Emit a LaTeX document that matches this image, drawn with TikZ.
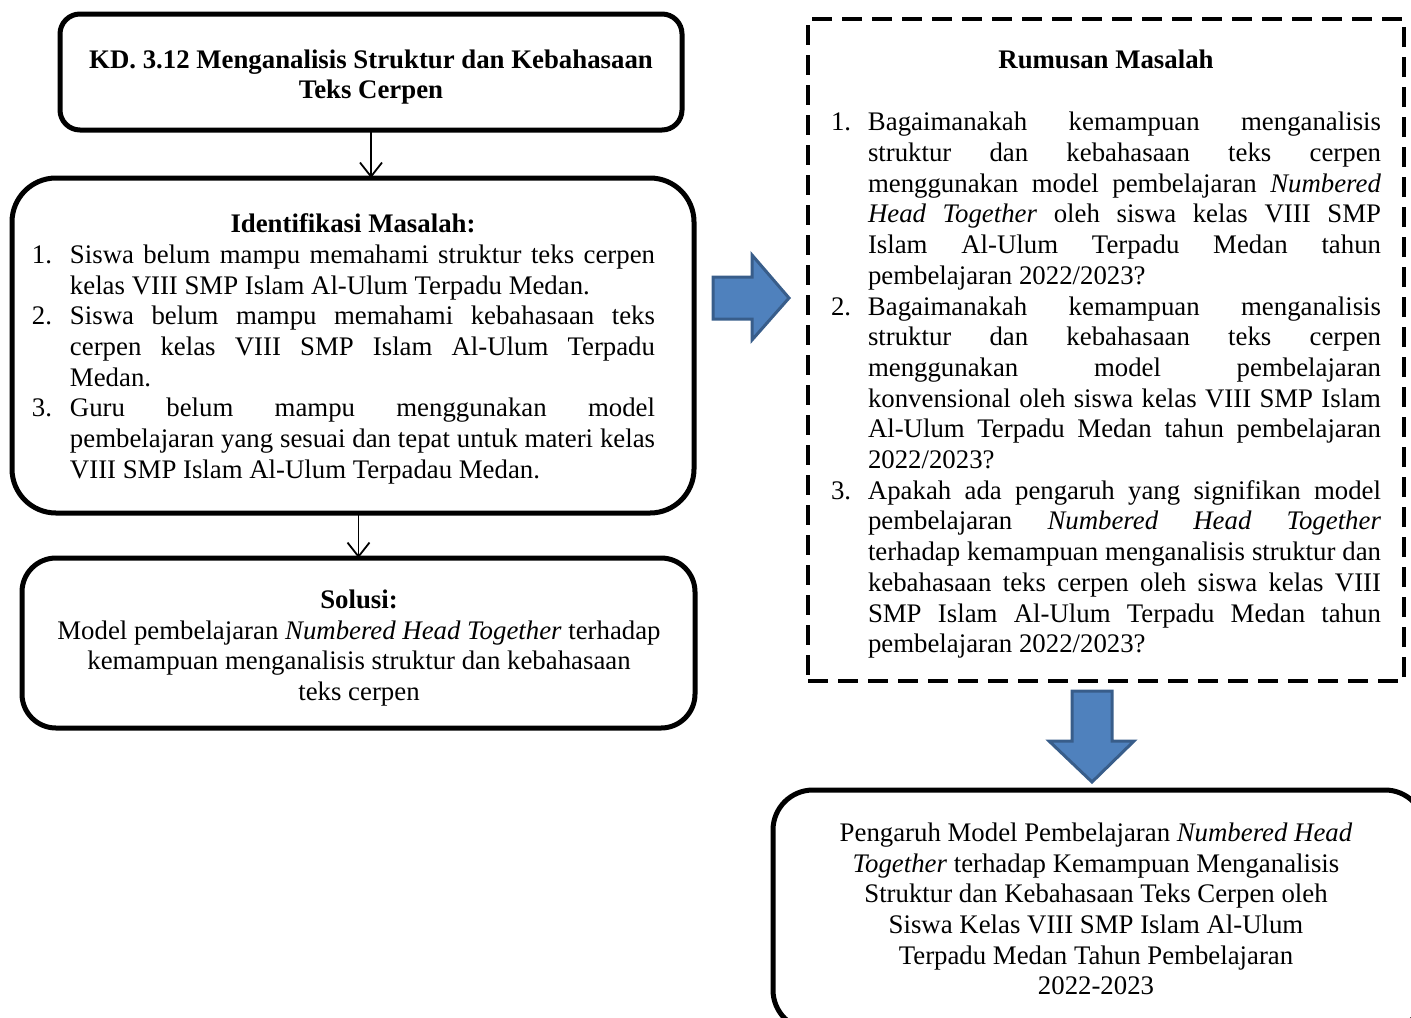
\documentclass[tikz,border=0pt]{standalone}
\usepackage{fontspec}
\setmainfont{Liberation Serif}
\usetikzlibrary{arrows.meta}
\definecolor{arrowfill}{HTML}{4F81BD}
\definecolor{arrowdraw}{HTML}{385D8A}
\newcommand{\fs}{\fontsize{13.4pt}{15.35pt}\selectfont}
\newcommand{\itm}[2]{\par\noindent\hangindent=#1\hangafter=1\makebox[#1][l]{#2}\ignorespaces}
\tikzset{
  rbox/.style={draw, line width=2.5pt, rounded corners=#1, inner sep=0pt, outer sep=0pt},
  dbox/.style={draw, line width=2pt, dash pattern=on 10pt off 5pt, inner sep=0pt, outer sep=0pt},
  txt/.style={inner sep=0pt, outer sep=0pt, font=\fs},
  thinarrow/.style={-{Straight Barb[length=7pt,width=11pt]}, line width=0.9pt},
  blockarrow/.style={fill=arrowfill, draw=arrowdraw, line width=1.5pt, line join=miter}
}
\begin{document}
\begin{tikzpicture}[x=0.5pt,y=-0.5pt]
\useasboundingbox (0,0) rectangle (1411,1017);
\clip (0,0) rectangle (1411,1017);

% KD box
\node[rbox=10pt, minimum width=311pt, minimum height=58pt] (kd) at (371,72) {};
\node[txt, align=center, font=\fs\bfseries] (kdt) at (371,77)
  {KD. 3.12 Menganalisis Struktur dan Kebahasaan\\Teks Cerpen};

% Identifikasi box
\node[rbox=22pt, minimum width=341pt, minimum height=167.5pt] (id) at (353,345.5) {};
\node[txt, anchor=west] (idt) at (32,349) {\parbox{311.5pt}{%
\makebox[\linewidth]{\hspace{9.5pt}\bfseries Identifikasi Masalah:}
\itm{19pt}{1.}Siswa belum mampu memahami struktur teks cerpen\linebreak kelas VIII SMP Islam Al-Ulum Terpadu Medan.
\itm{19pt}{2.}Siswa belum mampu memahami kebahasaan teks\linebreak cerpen kelas VIII SMP Islam Al-Ulum Terpadu\linebreak Medan.
\itm{19pt}{3.}Guru belum mampu menggunakan model\linebreak pembelajaran yang sesuai dan tepat untuk materi kelas\linebreak VIII SMP Islam Al-Ulum Terpadau Medan.}};

% Solusi box
\node[rbox=17pt, minimum width=336.5pt, minimum height=85pt] (sol) at (358.5,643) {};
\node[txt, align=center] (solt) at (359,648)
  {\textbf{Solusi:}\\Model pembelajaran \textit{Numbered Head Together} terhadap\\kemampuan menganalisis struktur dan kebahasaan\\teks cerpen};

% thin arrows
\draw[thinarrow] (kd.south) -- (kd.south |- id.north);
\draw[thinarrow] (id.south -| sol.north) -- (sol.north);

% Rumusan Masalah dashed box
\node[dbox, minimum width=298pt, minimum height=331pt] (rm) at (1106,350) {};
\node[txt, anchor=west] (rmt) at (831,354) {\parbox{275pt}{%
\makebox[\linewidth]{\bfseries Rumusan Masalah}\par\vspace{16pt}
\itm{18.5pt}{1.}Bagaimanakah kemampuan menganalisis\linebreak struktur dan kebahasaan teks cerpen\linebreak menggunakan model pembelajaran \textit{Numbered}\linebreak \textit{Head Together} oleh siswa kelas VIII SMP\linebreak Islam Al-Ulum Terpadu Medan tahun\linebreak pembelajaran 2022/2023?
\itm{18.5pt}{2.}Bagaimanakah kemampuan menganalisis\linebreak struktur dan kebahasaan teks cerpen\linebreak menggunakan model pembelajaran\linebreak konvensional oleh siswa kelas VIII SMP Islam\linebreak Al-Ulum Terpadu Medan tahun pembelajaran\linebreak 2022/2023?
\itm{18.5pt}{3.}Apakah ada pengaruh yang signifikan model\linebreak pembelajaran \textit{Numbered Head Together}\linebreak terhadap kemampuan menganalisis struktur dan\linebreak kebahasaan teks cerpen oleh siswa kelas VIII\linebreak SMP Islam Al-Ulum Terpadu Medan tahun\linebreak pembelajaran 2022/2023?}};

% block arrows
\draw[blockarrow] (713,277) -- (752,277) -- (752,255) -- (789,298) -- (752,340) -- (752,319) -- (713,319) -- cycle;
\draw[blockarrow] (1072,691) -- (1112,691) -- (1112,741) -- (1134,741) -- (1092,782) -- (1049,741) -- (1072,741) -- cycle;

% Pengaruh box
\node[rbox=20pt, minimum width=326pt, minimum height=120pt] (pg) at (1099,910) {};
\node[txt, align=center] (pgt) at (1096,909)
  {Pengaruh Model Pembelajaran \textit{Numbered Head}\\\textit{Together} terhadap Kemampuan Menganalisis\\Struktur dan Kebahasaan Teks Cerpen oleh\\Siswa Kelas VIII SMP Islam Al-Ulum\\Terpadu Medan Tahun Pembelajaran\\2022-2023};
\end{tikzpicture}
\end{document}
